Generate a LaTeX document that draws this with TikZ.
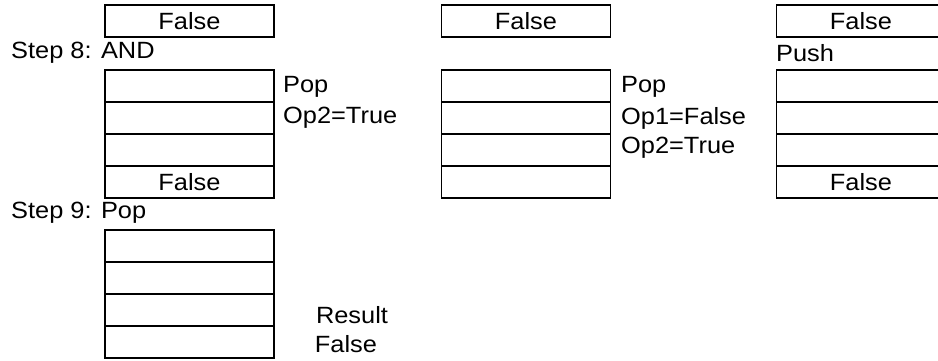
\documentclass[tikz,border=0pt]{standalone}
\usepackage{fontspec}
\setmainfont[FakeStretch=1.08]{Liberation Sans}
\usetikzlibrary{positioning}
\begin{document}
\begin{tikzpicture}[
x=1pt,y=-1pt,
cell/.style={draw,line width=1.8pt,minimum width=169pt,minimum height=32pt,inner sep=0pt,outer sep=0pt},
note/.style={anchor=west,inner sep=0pt},
every node/.style={font=\fontsize{23.5}{28}\selectfont}
]
\useasboundingbox (0,0) rectangle (938,360);

% step 8
\node[cell] (t1) at (189.5,21) {False};
\node[note] (s8) at (11,53) {Step 8: AND};
\node[cell] (a1) at (189.5,86) {};
\node[cell,below=0pt of a1] (a2) {};
\node[cell,below=0pt of a2] (a3) {};
\node[cell,below=0pt of a3] (a4) {False};
\node[note] (p1) at (283,87) {Pop};
\node[note] (p2) at (283,118) {Op2=True};

\node[cell] (t2) at (526,21) {False};
\node[cell] (b1) at (526,86) {};
\node[cell,below=0pt of b1] (b2) {};
\node[cell,below=0pt of b2] (b3) {};
\node[cell,below=0pt of b3] (b4) {};
\node[note] (q1) at (621,87) {Pop};
\node[note] (q2) at (621,118) {Op1=False};
\node[note] (q3) at (621,148) {Op2=True};

\node[cell] (t3) at (861,21) {False};
\node[note] (push) at (776,53) {Push};
\node[cell] (c1) at (861,86) {};
\node[cell,below=0pt of c1] (c2) {};
\node[cell,below=0pt of c2] (c3) {};
\node[cell,below=0pt of c3] (c4) {False};

% step 9
\node[note] (s9) at (11,213) {Step 9: Pop};
\node[cell] (d1) at (189.5,246) {};
\node[cell,below=0pt of d1] (d2) {};
\node[cell,below=0pt of d2] (d3) {};
\node[cell,below=0pt of d3] (d4) {};
\node (r1) at (352,315) {Result};
\node (r2) at (346,344) {False};
\end{tikzpicture}
\end{document}
